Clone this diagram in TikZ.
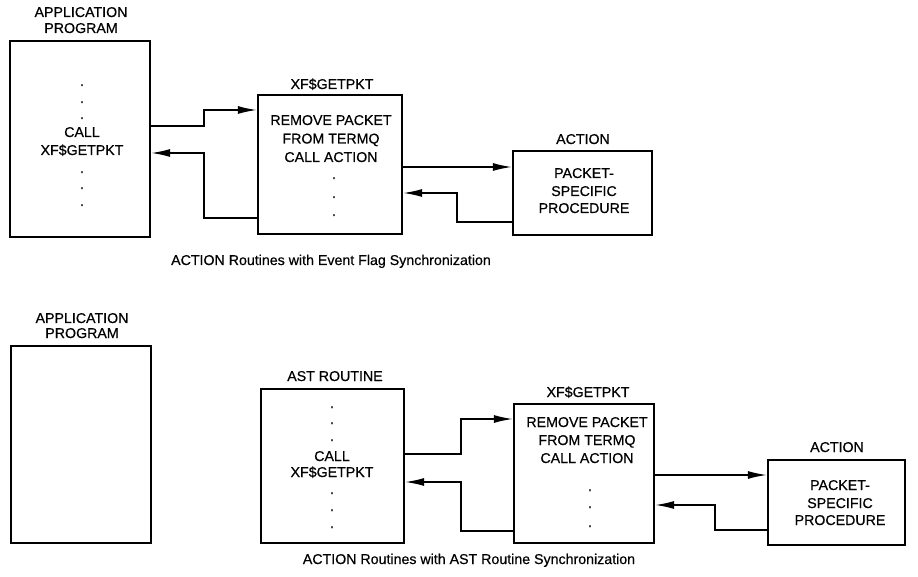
\documentclass[tikz,border=0pt]{standalone}
\usepackage{fontspec}
\setmainfont{Liberation Sans}[FakeBold=0.5]
\usetikzlibrary{arrows.meta}
\tikzset{
  box/.style={draw, line width=2.2pt, inner sep=0pt},
  txt/.style={font=\fontsize{14.2}{17}\selectfont, inner sep=0pt, anchor=base},
  conn/.style={line width=1.6pt, -{Latex[length=19pt,width=8pt]}},
}
\begin{document}
\begin{tikzpicture}[x=1pt,y=-1pt]
\useasboundingbox (0,0) rectangle (918,577);

% ---------------- top diagram ----------------
\node[box, minimum width=140pt, minimum height=196pt] (app1) at (80,139) {};
\node[txt] (app1a) at (81,17) {APPLICATION};
\node[txt] (app1b) at (81,33) {PROGRAM};
\node[txt] (app1c1) at (82,86) {.};
\node[txt] (app1c2) at (82,103) {.};
\node[txt] (app1c3) at (82,119) {.};
\node[txt] (app1c4) at (82,137) {CALL};
\node[txt] (app1c5) at (82,155) {XF\$GETPKT};
\node[txt] (app1c6) at (82,173) {.};
\node[txt] (app1c7) at (82,189) {.};
\node[txt] (app1c8) at (82,206) {.};

\node[box, minimum width=144pt, minimum height=139pt] (xf1) at (330,164.5) {};
\node[txt] (xf1t) at (332,89) {XF\$GETPKT};
\node[txt] (xf1c1) at (331,125) {REMOVE PACKET};
\node[txt] (xf1c2) at (331,143.5) {FROM TERMQ};
\node[txt] (xf1c3) at (331,162) {CALL ACTION};
\node[txt] (xf1c4) at (334,179) {.};
\node[txt] (xf1c5) at (334,198) {.};
\node[txt] (xf1c6) at (334,216) {.};

\node[box, minimum width=139pt, minimum height=84pt] (act1) at (582.5,193) {};
\node[txt] (act1t) at (583,144) {ACTION};
\node[txt] (act1c1) at (584,178) {PACKET-};
\node[txt] (act1c2) at (584,196) {SPECIFIC};
\node[txt] (act1c3) at (584,213) {PROCEDURE};

\node[txt] (cap1) at (331,265) {ACTION Routines with Event Flag Synchronization};

\draw[conn] (app1.east |- 0,126) -- (204,126) |- (xf1.west |- 0,110);
\draw[conn] (xf1.west |- 0,218) -- (204,218) |- (app1.east |- 0,153);
\draw[conn] (xf1.east |- 0,167) -- (act1.west |- 0,167);
\draw[conn] (act1.west |- 0,222) -- (457,222) |- (xf1.east |- 0,193);

% ---------------- bottom diagram ----------------
\node[box, minimum width=140pt, minimum height=197pt] (app2) at (81,444.5) {};
\node[txt] (app2a) at (82,323) {APPLICATION};
\node[txt] (app2b) at (82,338) {PROGRAM};

\node[box, minimum width=143pt, minimum height=154pt] (ast) at (332.5,466) {};
\node[txt] (astt) at (335,381) {AST ROUTINE};
\node[txt] (astc1) at (332,408) {.};
\node[txt] (astc2) at (332,424) {.};
\node[txt] (astc3) at (332,441) {.};
\node[txt] (astc4) at (332,461) {CALL};
\node[txt] (astc5) at (332,477) {XF\$GETPKT};
\node[txt] (astc6) at (332,494) {.};
\node[txt] (astc7) at (332,511) {.};
\node[txt] (astc8) at (332,528) {.};

\node[box, minimum width=140pt, minimum height=139pt] (xf2) at (584,473.5) {};
\node[txt] (xf2t) at (588,397) {XF\$GETPKT};
\node[txt] (xf2c1) at (587,427) {REMOVE PACKET};
\node[txt] (xf2c2) at (587,445) {FROM TERMQ};
\node[txt] (xf2c3) at (587,463) {CALL ACTION};
\node[txt] (xf2c4) at (590,491) {.};
\node[txt] (xf2c5) at (590,508) {.};
\node[txt] (xf2c6) at (590,527) {.};

\node[box, minimum width=137pt, minimum height=85pt] (act2) at (836.5,502.5) {};
\node[txt] (act2t) at (837,452) {ACTION};
\node[txt] (act2c1) at (840,490) {PACKET-};
\node[txt] (act2c2) at (840,508) {SPECIFIC};
\node[txt] (act2c3) at (840,525) {PROCEDURE};

\node[txt] (cap2) at (469,564) {ACTION Routines with AST Routine Synchronization};

\draw[conn] (ast.east |- 0,454) -- (461,454) |- (xf2.west |- 0,419);
\draw[conn] (xf2.west |- 0,531) -- (461,531) |- (ast.east |- 0,482);
\draw[conn] (xf2.east |- 0,475) -- (act2.west |- 0,475);
\draw[conn] (act2.west |- 0,530) -- (715,530) |- (xf2.east |- 0,505);
\end{tikzpicture}
\end{document}
